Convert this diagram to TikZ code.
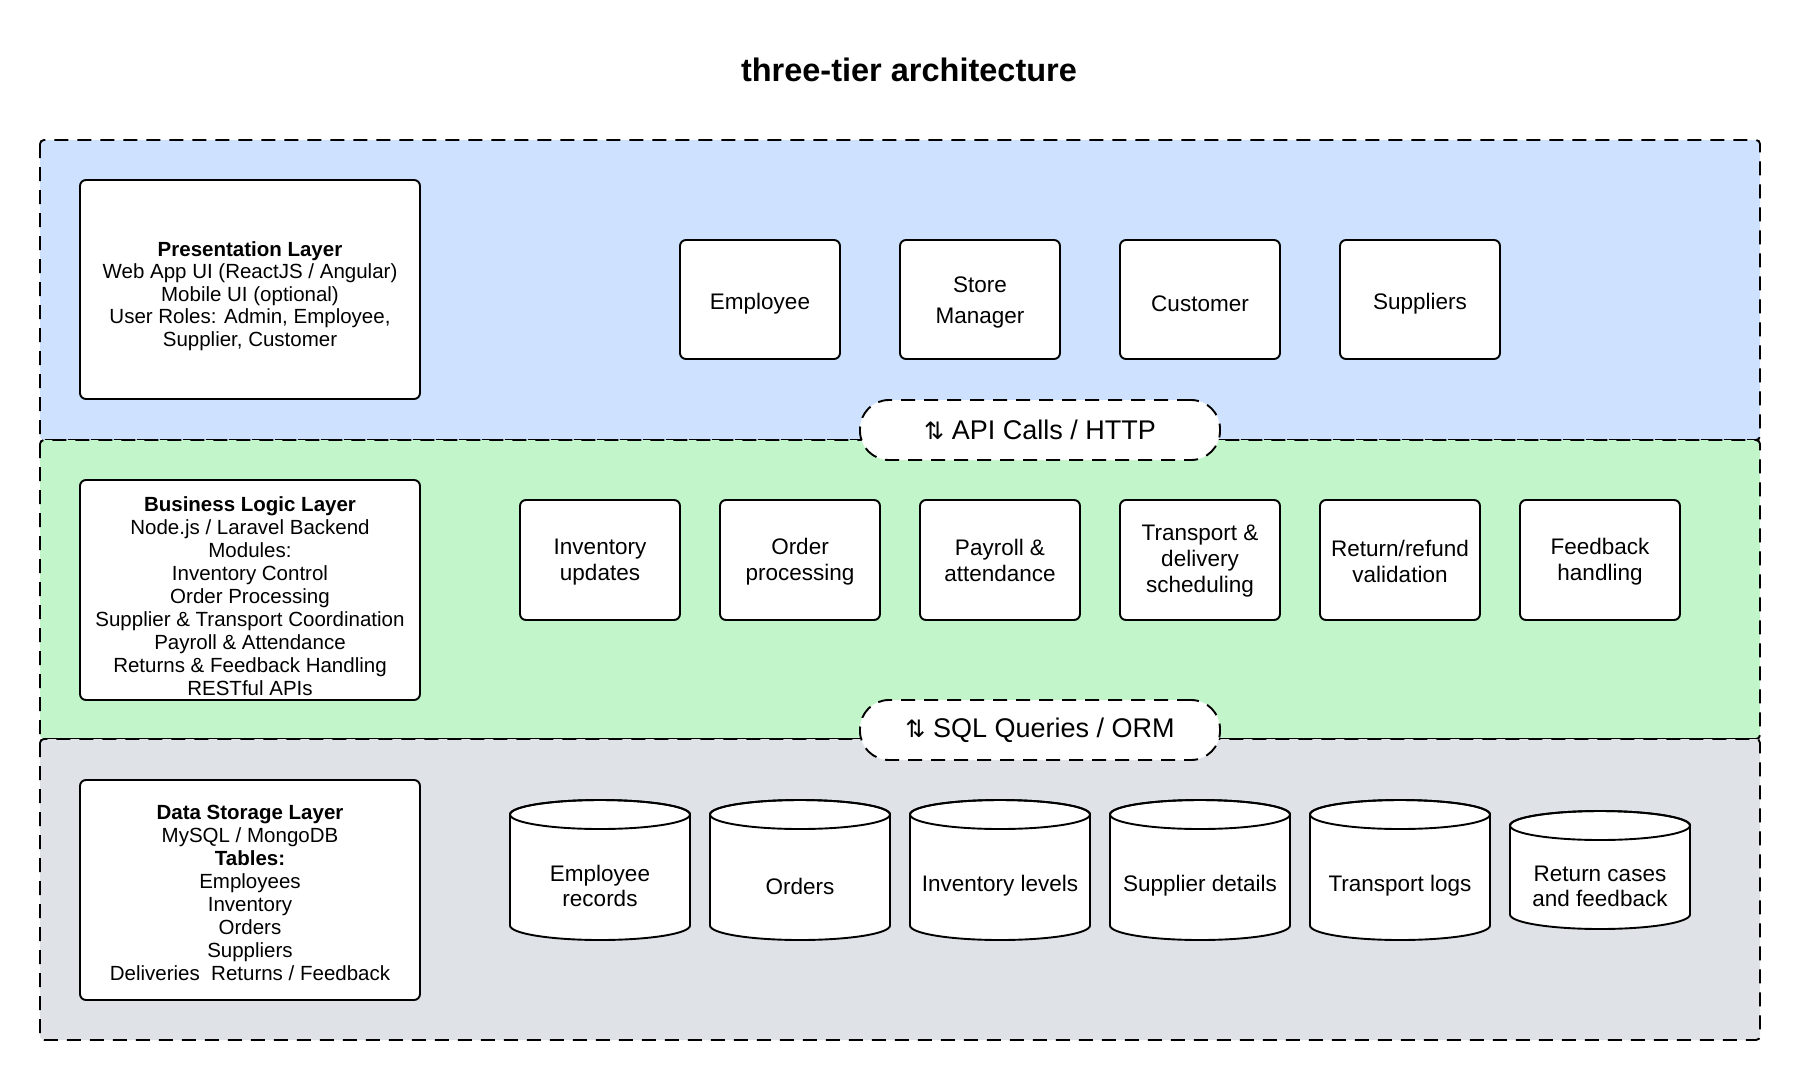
\documentclass[tikz,border=0pt]{standalone}
\usepackage{fontspec}
\setmainfont{Liberation Sans}
\newfontfamily\symfont{DejaVu Sans}
\definecolor{toplayer}{RGB}{206,226,255}
\definecolor{midlayer}{RGB}{194,245,201}
\definecolor{botlayer}{RGB}{223,226,231}
\newcommand{\dbcyl}[5]{%
  \path[fill=white,draw=black,line width=1.9pt,line join=round]
    (#2-90,#3+14.5) -- (#2-90,#4-14.5) arc(180:0:90 and 14.5)
    -- (#2+90,#3+14.5) arc(0:-180:90 and 14.5) -- cycle;
  \draw[line width=1.9pt] (#2,#3+14.5) ellipse (90 and 14.5);
  \node[dbtext] (#1) at (#2,{(#3+#4)/2+16}) {#5};}
\begin{document}
\begin{tikzpicture}[x=1pt,y=-1pt,
  layer/.style={draw=black,line width=1.9pt,dash pattern=on 14pt off 9pt,rounded corners=4pt},
  card/.style={draw=black,fill=white,line width=1.9pt,rounded corners=6pt,inner sep=0pt},
  txt/.style={align=center,inner sep=0pt},
  info/.style={card,minimum width=340pt},
  role/.style={card,minimum width=160pt,minimum height=119pt},
  roletext/.style={txt,font=\fontsize{22.5}{31}\selectfont},
  module/.style={card,minimum width=160pt,minimum height=120pt},
  moduletext/.style={txt,font=\fontsize{22.5}{26}\selectfont},
  pill/.style={draw=black,fill=white,line width=1.9pt,dash pattern=on 14pt off 9pt,rounded corners=29pt,minimum width=360pt,minimum height=60pt,inner sep=0pt,font=\fontsize{27}{30}\selectfont},
  dbtext/.style={txt,font=\fontsize{22.5}{25}\selectfont}]
\useasboundingbox (0,0) rectangle (1800,1080);
\fill[white] (0,0) rectangle (1800,1080);
% title
\node[font=\bfseries\fontsize{32.5}{36}\selectfont] (title) at (909,70) {three-tier architecture};
% layers
\draw[layer,fill=toplayer] (40,140) rectangle (1760,440);
\draw[layer,fill=midlayer] (40,440) rectangle (1760,739);
\draw[layer,fill=botlayer] (40,739) rectangle (1760,1040);
% presentation layer
\node[info,minimum height=219pt] (pres) at (250,289.5) {};
\node[txt,font=\fontsize{20.5}{22.5}\selectfont] (prestext) at (250,296) {\textbf{Presentation Layer}\\Web App UI (ReactJS / Angular)\\Mobile UI (optional)\\User Roles: Admin, Employee,\\Supplier, Customer};
\node[role] (employee) at (760,299.5) {};
\node[role] (manager) at (980,299.5) {};
\node[role] (customer) at (1200,299.5) {};
\node[role] (suppliers) at (1420,299.5) {};
\node[roletext] at ([yshift=-4pt]employee.center) {Employee};
\node[roletext] at ([yshift=-3pt]manager.center) {Store\\Manager};
\node[roletext] at ([yshift=-4pt]customer.center) {Customer};
\node[roletext] at ([yshift=-4pt]suppliers.center) {Suppliers};
% business layer
\node[info,minimum height=220pt] (biz) at (250,590) {};
\node[txt,font=\fontsize{20.5}{23}\selectfont] (biztext) at (250,596) {\textbf{Business Logic Layer}\\Node.js / Laravel Backend\\Modules:\\Inventory Control\\Order Processing\\Supplier \& Transport Coordination\\Payroll \& Attendance\\Returns \& Feedback Handling\\RESTful APIs};
\node[module] (m1) at (600,560) {};
\node[module] (m2) at (800,560) {};
\node[module] (m3) at (1000,560) {};
\node[module] (m4) at (1200,560) {};
\node[module] (m5) at (1400,560) {};
\node[module] (m6) at (1600,560) {};
\node[moduletext] at ([yshift=-2pt]m1.center) {Inventory\\updates};
\node[moduletext] at ([yshift=-2pt]m2.center) {Order\\processing};
\node[moduletext] at ([yshift=0pt]m3.center) {Payroll \&\\attendance};
\node[moduletext] at ([yshift=-1pt]m4.center) {Transport \&\\delivery\\scheduling};
\node[moduletext] at ([yshift=-1pt]m5.center) {Return/refund\\validation};
\node[moduletext] at ([yshift=-2pt]m6.center) {Feedback\\handling};
% data layer
\node[info,minimum height=220pt] (data) at (250,890) {};
\node[txt,font=\fontsize{20.5}{23}\selectfont] (datatext) at (250,893) {\textbf{Data Storage Layer}\\MySQL / MongoDB\\\textbf{Tables:}\\Employees\\Inventory\\Orders\\Suppliers\\Deliveries\ \ Returns / Feedback};
\dbcyl{d1}{600}{800}{940}{Employee\\records}
\dbcyl{d2}{800}{800}{940}{Orders}
\dbcyl{d3}{1000}{800}{940}{Inventory levels}
\dbcyl{d4}{1200}{800}{940}{Supplier details}
\dbcyl{d5}{1400}{800}{940}{Transport logs}
\dbcyl{d6}{1600}{811}{929}{Return cases\\and feedback}
% pills
\node[pill] (api) at (1040,430) {{\symfont\fontsize{24}{30}\selectfont ⇅} API Calls / HTTP};
\node[pill] (sql) at (1040,730) {{\symfont\fontsize{24}{30}\selectfont ⇅} SQL Queries / ORM};
\end{tikzpicture}
\end{document}
